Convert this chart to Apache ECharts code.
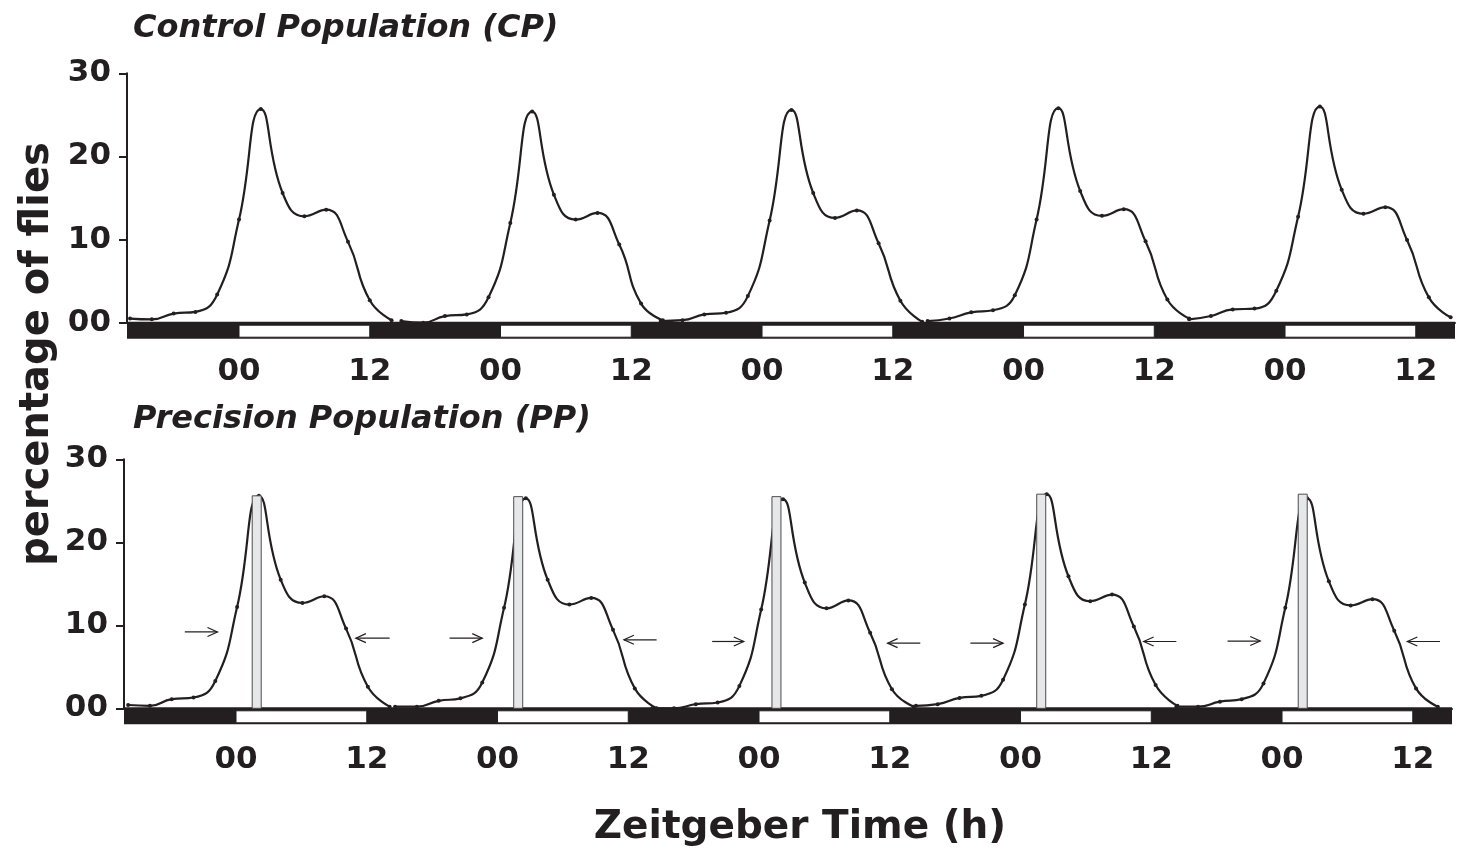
<!DOCTYPE html>
<html><head><meta charset="utf-8">
<script src="https://cdn.jsdelivr.net/npm/echarts@6/dist/echarts.min.js"></script>
<style>html,body{margin:0;padding:0;background:#fff}#c{width:1469px;height:854px}</style>
</head><body><div id="c"></div>
<script>
// ---- data (hours relative to each day's ZT0; percentage of flies) ----
const sampleZT = [-10, -8, -6, -4, -2, 0, 2, 4, 6, 8, 10, 12, 14];

const cpDayStart = [0, 24.9, 48.7, 73.2, 97.2];
const cpDay1 = [0.5, 0.4, 1.1, 1.3, 3.4, 12.4, 25.7, 15.6, 12.8, 13.6, 9.75, 2.7, 0.3];
const cpDay2 = [0.2, 0.0, 0.8, 1.0, 3.05, 12.0, 25.4, 15.4, 12.4, 13.2, 9.4, 2.3, 0.3];
const cpDay3 = [0.2, 0.3, 1.0, 1.2, 3.2, 12.3, 25.6, 15.6, 12.6, 13.5, 9.55, 2.65, 0.1];
const cpDay4 = [0.2, 0.5, 1.25, 1.5, 3.3, 12.4, 25.8, 15.85, 12.85, 13.65, 9.8, 2.8, 0.5];
const cpDay5 = [0.4, 0.8, 1.6, 1.7, 3.85, 12.75, 26.0, 16.0, 13.1, 13.9, 9.95, 3.05, 0.65];

const ppDayStart = [0.1, 24.6, 48.2, 72.4, 96.3];
const ppDay1 = [0.4, 0.3, 1.1, 1.3, 3.3, 12.2, 25.6, 15.5, 12.7, 13.5, 9.6, 2.6, 0.2];
const ppDay2 = [0.2, 0.2, 0.9, 1.2, 3.1, 12.1, 25.3, 15.5, 12.5, 13.3, 9.45, 2.4, 0.0];
const ppDay3 = [0.0, 0.0, 0.5, 0.7, 2.7, 11.9, 25.2, 15.15, 12.05, 13.0, 9.1, 2.3, 0.2];
const ppDay4 = [0.3, 0.5, 1.25, 1.5, 3.45, 12.5, 25.8, 15.9, 12.9, 13.7, 9.85, 2.8, 0.3];
const ppDay5 = [0.2, 0.2, 0.8, 1.1, 3.0, 12.1, 25.3, 15.3, 12.4, 13.15, 9.35, 2.4, 0.2];

// selection window of the precision population (hours, height)
const ppWindowTime = [1.9, 25.9, 49.6, 73.9, 97.9];
const ppWindowHeight = [25.6, 25.5, 25.5, 25.8, 25.8];

// arrows: [from hour, to hour (head), level]
const arrowsRight = [[-4.7, -1.7, 9.2], [19.6, 22.6, 8.45], [43.7, 46.6, 8.05], [67.4, 70.4, 7.85], [91.0, 94.0, 8.1]];
const arrowsLeft = [[14.1, 11.0, 8.45], [38.6, 35.6, 8.25], [62.8, 59.8, 7.85], [86.3, 83.3, 8.05], [110.5, 107.5, 8.05]];

// light phases of the LD cycle
const lightOn = [0, 24, 48, 72, 96];
const lightDuration = 12;

const xTickValues = [0, 12, 24, 36, 48, 60, 72, 84, 96, 108];
const yTickLabels = { 0: '00', 10: '10', 20: '20', 30: '30' };

// ---- chart ----
const INK = '#231f20';
const FONT = 'DejaVu Sans';
const xMin = -10.28, xMax = 111.6;

function daySeries(vals, start, gi) {
  const data = [];
  sampleZT.forEach((z, i) => { if (vals[i] !== null) data.push([start + z, vals[i]]); });
  return {
    type: 'line', xAxisIndex: gi, yAxisIndex: gi, data: data,
    smooth: 0.5, symbol: 'circle', symbolSize: 4, showSymbol: true,
    lineStyle: { color: INK, width: 2.2 }, itemStyle: { color: INK },
    z: 3, silent: true
  };
}

function ldRender(params, api) {
  const cs = params.coordSys;
  const y0 = api.coord([0, 0])[1];
  const x1 = api.coord([api.value(0), 0])[0];
  const x2 = api.coord([api.value(1), 0])[0];
  const children = [];
  if (params.dataIndex === 0) {
    children.push({ type: 'rect', shape: { x: cs.x, y: y0 - 1, width: cs.width, height: 17 }, style: { fill: INK } });
  }
  children.push({ type: 'rect', shape: { x: x1, y: y0 + 2.5, width: x2 - x1, height: 12 },
    style: { fill: '#ffffff', stroke: INK, lineWidth: 1 } });
  return { type: 'group', children: children };
}

function ldSeries(gi) {
  return { type: 'custom', xAxisIndex: gi, yAxisIndex: gi, clip: false, silent: true, z: 2,
    data: lightOn.map(s => [s, s + lightDuration]), renderItem: ldRender };
}

function windowRender(params, api) {
  const top = api.coord([api.value(0), api.value(1)]);
  const base = api.coord([api.value(0), 0]);
  return { type: 'rect', shape: { x: top[0] - 4.5, y: top[1], width: 9, height: base[1] - top[1] },
    style: { fill: '#e6e7e8', stroke: '#4d4d4d', lineWidth: 1 } };
}

function arrowRender(params, api) {
  const p1 = api.coord([api.value(0), api.value(2)]);
  const p2 = api.coord([api.value(1), api.value(2)]);
  const dir = p2[0] > p1[0] ? 1 : -1;
  const hx = p2[0] - dir * 10;
  return { type: 'group', children: [
    { type: 'line', shape: { x1: p1[0], y1: p1[1], x2: p2[0], y2: p2[1] }, style: { stroke: INK, lineWidth: 1.2 } },
    { type: 'polyline', shape: { points: [[hx, p2[1] - 4.5], [p2[0], p2[1]], [hx, p2[1] + 4.5]] },
      style: { stroke: INK, lineWidth: 1.2, fill: null } }
  ] };
}

function xAxisDef(gi, margin) {
  return {
    type: 'value', gridIndex: gi, min: xMin, max: xMax,
    axisLine: { show: true, onZero: false, lineStyle: { color: INK, width: 2 } },
    axisTick: { show: false }, splitLine: { show: false },
    axisLabel: {
      customValues: xTickValues, margin: margin,
      formatter: v => (Math.round(v) % 24 === 0 ? '00' : '12'),
      fontFamily: FONT, fontWeight: 'bold', fontSize: 31, color: INK
    }
  };
}
function yAxisDef(gi) {
  return {
    type: 'value', gridIndex: gi, min: 0, max: 30, interval: 10,
    axisLine: { show: true, onZero: false, lineStyle: { color: INK, width: 2 } },
    axisTick: { show: true, length: 8, lineStyle: { color: INK, width: 2 } },
    splitLine: { show: false },
    axisLabel: { formatter: v => yTickLabels[v], margin: 16,
      fontFamily: FONT, fontWeight: 'bold', fontSize: 31, color: INK }
  };
}

const series = [];
series.push(ldSeries(0), ldSeries(1));
[cpDay1, cpDay2, cpDay3, cpDay4, cpDay5].forEach((d, i) => series.push(daySeries(d, cpDayStart[i], 0)));
[ppDay1, ppDay2, ppDay3, ppDay4, ppDay5].forEach((d, i) => series.push(daySeries(d, ppDayStart[i], 1)));
series.push({ type: 'custom', xAxisIndex: 1, yAxisIndex: 1, clip: false, silent: true, z: 4,
  data: ppWindowTime.map((t, i) => [t, ppWindowHeight[i]]), renderItem: windowRender });
series.push({ type: 'custom', xAxisIndex: 1, yAxisIndex: 1, clip: false, silent: true, z: 4,
  data: arrowsRight.concat(arrowsLeft), renderItem: arrowRender });

const chart = echarts.init(document.getElementById('c'), null, { renderer: 'canvas' });
chart.setOption({
  animation: false,
  backgroundColor: '#ffffff',
  grid: [
    { left: 127, top: 73.3, width: 1328, height: 249.4 },
    { left: 124, top: 459.3, width: 1328, height: 249 }
  ],
  xAxis: [xAxisDef(0, 34), xAxisDef(1, 36)],
  yAxis: [yAxisDef(0), yAxisDef(1)],
  series: series,
  graphic: [
    { type: 'text', x: 133, y: 29, style: { text: 'Control Population (CP)', fill: INK,
      fontFamily: FONT, fontWeight: 'bold', fontStyle: 'italic', fontSize: 32, verticalAlign: 'middle' } },
    { type: 'text', x: 133, y: 420, style: { text: 'Precision Population (PP)', fill: INK,
      fontFamily: FONT, fontWeight: 'bold', fontStyle: 'italic', fontSize: 32, verticalAlign: 'middle' } },
    { type: 'text', x: 38, y: 354, rotation: Math.PI / 2, style: { text: 'percentage of flies', fill: INK,
      fontFamily: FONT, fontWeight: 'bold', fontSize: 40, align: 'center', verticalAlign: 'middle' } },
    { type: 'text', x: 800, y: 828, style: { text: 'Zeitgeber Time (h)', fill: INK,
      fontFamily: FONT, fontWeight: 'bold', fontSize: 39, align: 'center', verticalAlign: 'middle' } }
  ]
});
</script>
</body></html>
